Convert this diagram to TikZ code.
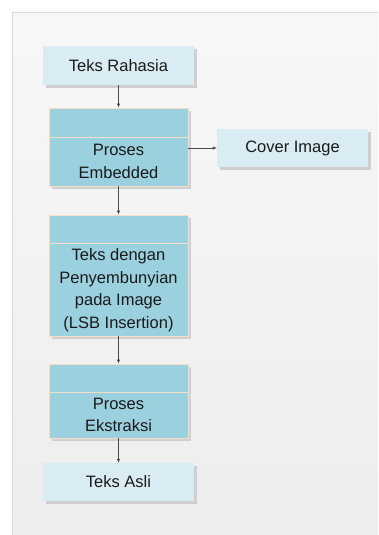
\documentclass[tikz,border=0pt]{standalone}
\usepackage{fontspec}
\setmainfont{Liberation Sans}
\usetikzlibrary{arrows.meta,shadows}

\definecolor{boxlight}{HTML}{D9ECF3}
\definecolor{boxdark}{HTML}{9BD0DF}
\definecolor{edgepeach}{HTML}{F4DEC8}
\definecolor{shadowcol}{HTML}{CFCFCF}
\definecolor{textcol}{HTML}{1A1A1A}
\definecolor{arrowcol}{HTML}{4A4A4A}
\definecolor{panelline}{HTML}{DADADA}

\tikzset{
  label font/.style={font=\fontsize{16.5}{22.5}\selectfont, text=textcol},
  lightbox/.style={rectangle, fill=boxlight, draw=none, inner sep=0pt,
    minimum width=151pt, label font,
    drop shadow={shadow xshift=3pt, shadow yshift=-3pt, fill=shadowcol, opacity=1}},
  darkbox/.style={rectangle, fill=boxdark, draw=edgepeach, line width=0.9pt, inner sep=0pt,
    minimum width=139pt,
    drop shadow={shadow xshift=3pt, shadow yshift=-3pt, fill=shadowcol, opacity=1}},
  boxtext/.style={align=center, inner sep=0pt, label font},
  divider/.style={draw=edgepeach, line width=0.9pt},
  arr/.style={draw=arrowcol, line width=0.6pt, -{Latex[length=4pt,width=3.5pt]}},
}

\begin{document}
\begin{tikzpicture}[x=1pt,y=-1pt]
  \useasboundingbox (0,0) rectangle (378,535);
  % page and panel
  \fill[white] (0,0) rectangle (378,535);
  \shade[top color=white!97!black, bottom color=white!93!black]
    (12,12) rectangle (378,535);
  \draw[panelline, line width=0.8pt] (12,535) -- (12,12) -- (378,12);

  % input and output boxes
  \node[lightbox, minimum height=39pt] (secret) at (118.5,65.5) {Teks Rahasia};
  \node[lightbox, minimum height=38pt] (cover) at (292.5,148) {Cover Image};
  \node[lightbox, minimum height=38pt] (plain) at (118.5,482) {Teks Asli};

  % processing boxes
  \node[darkbox, minimum height=78pt] (embed) at (118.5,147) {};
  \draw[divider] (embed.west |- 0,137) -- (embed.east |- 0,137);
  \node[boxtext] (embedtxt) at (118.5,161.5) {Proses\\Embedded};

  \node[darkbox, minimum height=121pt] (stego) at (118.5,275.5) {};
  \draw[divider] (stego.west |- 0,243) -- (stego.east |- 0,243);
  \node[boxtext] (stegotxt) at (118.5,290) {Teks dengan\\Penyembunyian\\pada Image\\(LSB Insertion)};

  \node[darkbox, minimum height=74pt] (extract) at (118.5,401) {};
  \draw[divider] (extract.west |- 0,392) -- (extract.east |- 0,392);
  \node[boxtext] (extracttxt) at (118.5,415) {Proses\\Ekstraksi};

  % connectors
  \draw[arr] (secret) -- (embed);
  \draw[arr] (embed.east |- cover.west) -- (cover.west);
  \draw[arr] (embed) -- (stego);
  \draw[arr] (stego) -- (extract);
  \draw[arr] (extract) -- (plain);
\end{tikzpicture}
\end{document}
